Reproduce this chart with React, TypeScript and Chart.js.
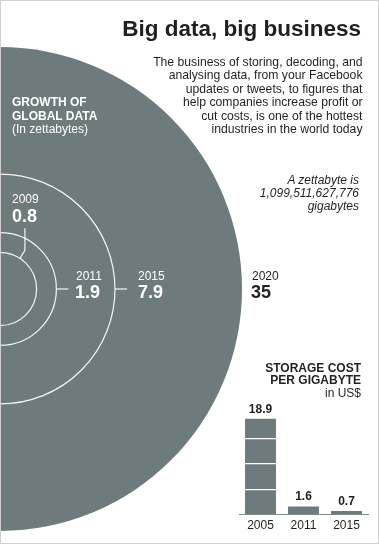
import React, { useEffect, useRef } from 'react';
import { Chart, registerables } from 'chart.js';
Chart.register(...registerables);

// ---- data ----
const dataYears = ['2009', '2011', '2015', '2020'];
const dataZettabytes = [0.8, 1.9, 7.9, 35];
const costYears = ['2005', '2011', '2015'];
const costPerGB = [18.9, 1.6, 0.7];
const costGridValues = [5, 10, 15];

const GRAY = '#6e7b7d';
const INK = '#231f20';
const FONT = '"Liberation Sans", Arial, Helvetica, sans-serif';

const W = 379;
const H = 544;

type LabelProps = {
  x: number;
  baseline: number;
  size: number;
  lines: string[];
  lh?: number;
  bold?: boolean;
  italic?: boolean;
  color?: string;
  align?: 'left' | 'right';
  spacing?: number;
};

function Label({ x, baseline, size, lines, lh, bold, italic, color, align = 'left', spacing = 0 }: LabelProps) {
  const lineH = lh ?? size * 1.15;
  const top = baseline - ((lineH - 1.117 * size) / 2 + 0.905 * size);
  const style: React.CSSProperties = {
    position: 'absolute',
    top,
    fontFamily: FONT,
    fontSize: size,
    lineHeight: `${lineH}px`,
    fontWeight: bold ? 700 : 400,
    fontStyle: italic ? 'italic' : 'normal',
    color: color ?? INK,
    whiteSpace: 'nowrap',
    textAlign: align,
    letterSpacing: spacing,
  };
  if (align === 'right') style.right = W - x;
  else style.left = x;
  return (
    <div style={style}>
      {lines.map((l, i) => (
        <div key={i}>{l}</div>
      ))}
    </div>
  );
}

const circlesPlugin = {
  id: 'circles',
  beforeDatasetsDraw(chart: any) {
    const { ctx } = chart;
    const x = chart.scales.x;
    const y = chart.scales.y;
    const cx = x.getPixelForValue(0);
    const cy = y.getPixelForValue(0);
    const radius = (v: number) => x.getPixelForValue(Math.sqrt(v)) - cx;
    const last = dataZettabytes.length - 1;
    ctx.save();
    ctx.fillStyle = GRAY;
    ctx.beginPath();
    ctx.arc(cx, cy, radius(dataZettabytes[last]), 0, Math.PI * 2);
    ctx.fill();
    ctx.strokeStyle = 'rgba(255,255,255,0.92)';
    ctx.lineWidth = 1.2;
    for (let i = 0; i < last; i++) {
      ctx.beginPath();
      ctx.arc(cx, cy, radius(dataZettabytes[i]), 0, Math.PI * 2);
      ctx.stroke();
    }
    // leader ticks for 2011 and 2015
    for (let i = 1; i < last; i++) {
      const r = radius(dataZettabytes[i]);
      ctx.beginPath();
      ctx.moveTo(cx + r, cy);
      ctx.lineTo(cx + r + 12, cy);
      ctx.stroke();
    }
    // leader for 2009
    const r0 = radius(dataZettabytes[0]);
    const a = (-57 * Math.PI) / 180;
    const p0x = cx + r0 * Math.cos(a);
    const p0y = cy + r0 * Math.sin(a);
    ctx.beginPath();
    ctx.moveTo(p0x, p0y);
    ctx.lineTo(p0x + 5, p0y - 8);
    ctx.lineTo(p0x + 5, p0y - 30);
    ctx.stroke();
    ctx.restore();
  },
};

const barLabelsPlugin = {
  id: 'barLabels',
  afterDatasetsDraw(chart: any) {
    const { ctx } = chart;
    const meta = chart.getDatasetMeta(0);
    ctx.save();
    ctx.fillStyle = INK;
    ctx.font = `bold 12px ${FONT}`;
    ctx.textAlign = 'center';
    ctx.textBaseline = 'alphabetic';
    meta.data.forEach((el: any, i: number) => {
      ctx.fillText(String(costPerGB[i]), el.x, el.y - 6);
    });
    ctx.restore();
  },
};

function CircleChart() {
  const ref = useRef<HTMLCanvasElement>(null);
  useEffect(() => {
    const unit = 242 / Math.sqrt(35);
    const chart = new Chart(ref.current!, {
      type: 'scatter',
      data: {
        datasets: [
          {
            data: dataZettabytes.map((v) => ({ x: Math.sqrt(v), y: 0 })),
            pointRadius: 0,
            showLine: false,
          },
        ],
      },
      options: {
        animation: false,
        responsive: false,
        maintainAspectRatio: false,
        layout: { padding: 0 },
        events: [],
        plugins: { legend: { display: false }, tooltip: { enabled: false } },
        scales: {
          x: { type: 'linear', display: false, min: 0, max: W / unit },
          y: { type: 'linear', display: false, min: -(H - 289) / unit, max: 289 / unit },
        },
      },
      plugins: [circlesPlugin],
    } as any);
    return () => chart.destroy();
  }, []);
  return (
    <canvas
      ref={ref}
      width={W}
      height={H}
      style={{ position: 'absolute', left: 0, top: 0, width: W, height: H }}
    />
  );
}

function CostChart() {
  const ref = useRef<HTMLCanvasElement>(null);
  useEffect(() => {
    const chart = new Chart(ref.current!, {
      type: 'bar',
      data: {
        labels: costYears,
        datasets: [
          {
            data: costPerGB,
            backgroundColor: GRAY,
            borderWidth: 0,
            barPercentage: 0.72,
            categoryPercentage: 1,
          },
        ],
      },
      options: {
        animation: false,
        responsive: false,
        maintainAspectRatio: false,
        events: [],
        layout: { padding: { left: 9, right: 7, top: 3, bottom: 7 } },
        plugins: { legend: { display: false }, tooltip: { enabled: false } },
        scales: {
          x: {
            grid: { display: false, drawTicks: false },
            border: { display: true, color: '#7d898b', width: 1 },
            ticks: { color: INK, font: { family: FONT, size: 12 }, padding: 4 },
          },
          y: {
            min: 0,
            max: 22,
            grid: {
              z: 1,
              drawTicks: false,
              lineWidth: 1.2,
              color: (c: any) =>
                c.tick && costGridValues.includes(c.tick.value) ? '#ffffff' : 'rgba(0,0,0,0)',
            },
            border: { display: false },
            ticks: { display: false, stepSize: 5 },
          },
        },
      },
      plugins: [barLabelsPlugin],
    } as any);
    return () => chart.destroy();
  }, []);
  return (
    <canvas
      ref={ref}
      width={145}
      height={144}
      style={{ position: 'absolute', left: 230, top: 400, width: 145, height: 144 }}
    />
  );
}

export default function App() {
  return (
    <div
      style={{
        position: 'absolute',
        left: 0,
        top: 0,
        width: W,
        height: H,
        overflow: 'hidden',
        background: '#ffffff',
        fontFamily: FONT,
      }}
    >
      <CircleChart />
      <CostChart />

      <Label x={361} baseline={37} size={22.5} bold align="right" lines={['Big data, big business']} />
      <Label
        x={362.5}
        baseline={66.7}
        size={12.2}
        lh={13.46}
        align="right"
        lines={[
          'The business of storing, decoding, and',
          'analysing data, from your Facebook',
          'updates or tweets, to figures that',
          'help companies increase profit or',
          'cut costs, is one of the hottest',
          'industries in the world today',
        ]}
      />
      <Label
        x={359}
        baseline={184.3}
        size={12}
        lh={13.2}
        italic
        align="right"
        lines={['A zettabyte is', '1,099,511,627,776', 'gigabytes']}
      />

      <Label x={12} baseline={107.3} size={12} lh={13.4} bold color="#ffffff" lines={['GROWTH OF', 'GLOBAL DATA']} />
      <Label x={12} baseline={134} size={12} color="#ffffff" lines={['(In zettabytes)']} />

      <Label x={12} baseline={204} size={12} color="#ffffff" lines={[dataYears[0]]} />
      <Label x={12} baseline={222.5} size={18} bold color="#ffffff" lines={[String(dataZettabytes[0])]} />
      <Label x={76} baseline={281} size={12} color="#ffffff" lines={[dataYears[1]]} />
      <Label x={75} baseline={299} size={18} bold color="#ffffff" lines={[String(dataZettabytes[1])]} />
      <Label x={138} baseline={281} size={12} color="#ffffff" lines={[dataYears[2]]} />
      <Label x={138} baseline={299} size={18} bold color="#ffffff" lines={[String(dataZettabytes[2])]} />
      <Label x={252} baseline={281} size={12} lines={[dataYears[3]]} />
      <Label x={251} baseline={298.5} size={18} bold lines={[String(dataZettabytes[3])]} />

      <Label x={361} baseline={372.3} size={12} lh={12.4} bold align="right" lines={['STORAGE COST', 'PER GIGABYTE']} />
      <Label x={361} baseline={398.5} size={12} align="right" lines={['in US$']} />

      <div
        style={{
          position: 'absolute',
          left: 0,
          top: 0,
          width: W,
          height: H,
          boxSizing: 'border-box',
          border: '1px solid #cfcfcf',
          pointerEvents: 'none',
        }}
      />
    </div>
  );
}
